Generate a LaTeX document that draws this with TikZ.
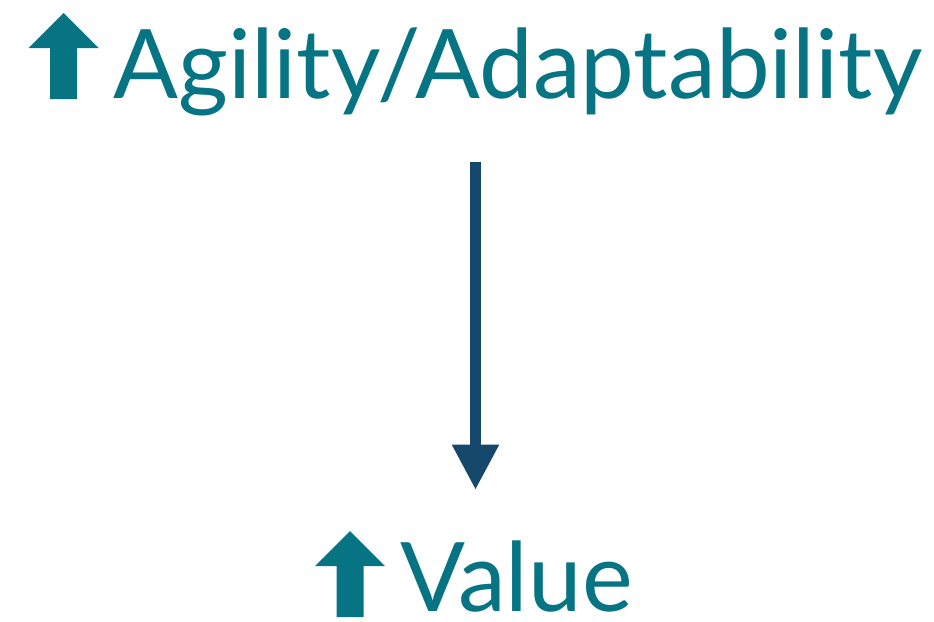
\documentclass[tikz,border=0pt]{standalone}
\usepackage{fontspec}
\setmainfont{Lato}
\usepackage{xcolor}
\usetikzlibrary{arrows.meta,positioning}
\definecolor{tealtxt}{HTML}{077483}
\definecolor{navyarr}{HTML}{16486B}
\tikzset{lbl/.style={text=tealtxt,inner sep=0pt,font=\fontsize{72}{76}\selectfont},
  flow/.style={draw=navyarr,line width=8.25pt,-{Triangle[width=33pt,length=34pt]}},
  upicon/.pic={\fill[tealtxt] (-13.5,0) -- (-13.5,-51) -- (-35,-51) -- (0,-86) -- (35,-51) -- (13.5,-51) -- (13.5,0) -- cycle;}}

\begin{document}
\begin{tikzpicture}[x=0.75pt,y=-0.75pt]
    \useasboundingbox (0,0) rectangle (934,621);
    \node[lbl,anchor=base west] (agil) at (113,98) {Agility/Adaptability};
    \node[lbl,anchor=base west] (val) at (400,611) {Value};
    \pic at (63.5,99) {upicon};
    \pic at (350,617) {upicon};

    \coordinate (atop) at (475.5,162);
    \coordinate (abot) at (475.5,490);
    \draw [flow] (atop) -- (abot);
\end{tikzpicture}
\end{document}
